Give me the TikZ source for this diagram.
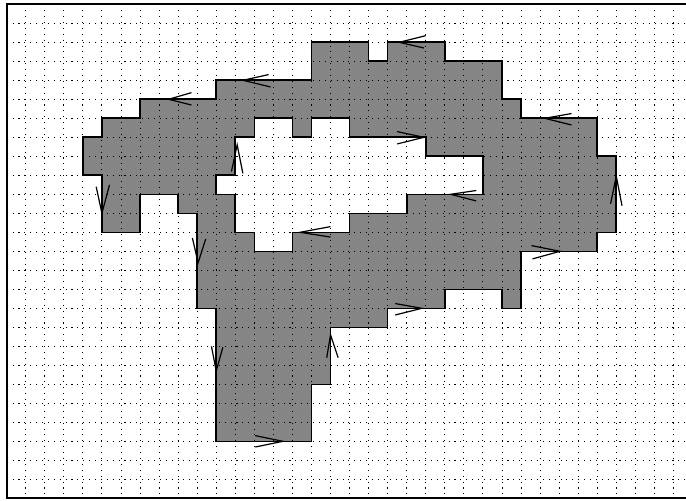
\documentclass[tikz,border=0pt]{standalone}
\usepackage{xcolor}
\usepackage{tikz}

% Contornos da região (coordenadas em células da grade)
\newcommand{\contornoExterno}{(3,6) -- (4,6) -- (4,5) -- (6,5) -- (6,4) -- (10,4) -- (10,3) -- (15,3) -- (15,1) -- (18,1) -- (18,2) -- (19,2) -- (19,1) -- (22,1) -- (22,2) -- (25,2) -- (25,4) -- (26,4) -- (26,5) -- (30,5) -- (30,7) -- (31,7) -- (31,11) -- (30,11) -- (30,12) -- (26,12) -- (26,15) -- (25,15) -- (25,14) -- (22,14) -- (22,15) -- (19,15) -- (19,16) -- (16,16) -- (16,19) -- (15,19) -- (15,22) -- (10,22) -- (10,15) -- (9,15) -- (9,10) -- (8,10) -- (8,9) -- (6,9) -- (6,11) -- (4,11) -- (4,8) -- (3,8) -- cycle}
\newcommand{\contornoFuro}{(12,5) -- (14,5) -- (14,6) -- (15,6) -- (15,5) -- (17,5) -- (17,6) -- (21,6) -- (21,7) -- (24,7) -- (24,9) -- (20,9) -- (20,10) -- (17,10) -- (17,11) -- (14,11) -- (14,12) -- (12,12) -- (12,11) -- (11,11) -- (11,9) -- (10,9) -- (10,8) -- (11,8) -- (11,6) -- (12,6) -- cycle}

\begin{document}
\begin{tikzpicture}[
        x=0.5cm, y=-0.4987cm,
        gridline/.style={line width=0.65pt, dash pattern=on 0.8pt off 3.6pt, black},
        region/.style={fill=black!48, even odd rule},
        edge/.style={draw=black, line width=1.2pt, line join=miter},
        moldura/.style={line width=1.3pt},
        flowtick/.style={line width=0.9pt, line join=miter}
    ]

        \useasboundingbox (-1.349,-1.226) rectangle (34.66,25.09);

        % Região sombreada (com furo)
        \path[region] \contornoExterno \contornoFuro;

        % Grade pontilhada
        \foreach \i in {0,...,34} \draw[gridline] (\i,-1) -- (\i,25);
        \foreach \j in {0,...,24} \draw[gridline] (-1,\j) -- (34.66,\j);

        % Contornos
        \draw[edge] \contornoExterno;
        \draw[edge] \contornoFuro;

        % Moldura
        \draw[moldura] (34.66,-1) -- (-1,-1) -- (-1,25) -- (34.66,25);

        % Setas do contorno externo
        \draw[flowtick] (21.0,0.65) -- (19.6,1) -- (20.9,1.3);
        \draw[flowtick] (28.65,4.75) -- (27.25,5) -- (28.65,5.35);
        \draw[flowtick] (12.75,2.7) -- (11.4,3) -- (12.85,3.35);
        \draw[flowtick] (8.7,3.65) -- (7.5,4) -- (8.7,4.3);
        \draw[flowtick] (3.7,8.6) -- (4,10) -- (4.4,8.5);
        \draw[flowtick] (8.75,11.3) -- (9.05,12.6) -- (9.45,11.35);
        \draw[flowtick] (9.75,17.0) -- (10,18.3) -- (10.35,17.05);
        \draw[flowtick] (12.05,21.7) -- (13.5,22) -- (12.05,22.3);
        \draw[flowtick] (15.8,17.6) -- (16,16.4) -- (16.4,17.6);
        \draw[flowtick] (19.4,14.75) -- (20.8,15) -- (19.4,15.35);
        \draw[flowtick] (26.55,11.7) -- (28.05,12) -- (26.6,12.4);
        \draw[flowtick] (30.7,9.5) -- (31,8.05) -- (31.3,9.6);

        % Setas do furo
        \draw[flowtick] (10.8,7.8) -- (11.1,6.4) -- (11.4,7.9);
        \draw[flowtick] (19.5,5.7) -- (20.9,6) -- (19.5,6.35);
        \draw[flowtick] (23.65,8.8) -- (22.3,9) -- (23.65,9.35);
        \draw[flowtick] (16.0,10.7) -- (14.4,11) -- (16.0,11.25);

\end{tikzpicture}
\end{document}
